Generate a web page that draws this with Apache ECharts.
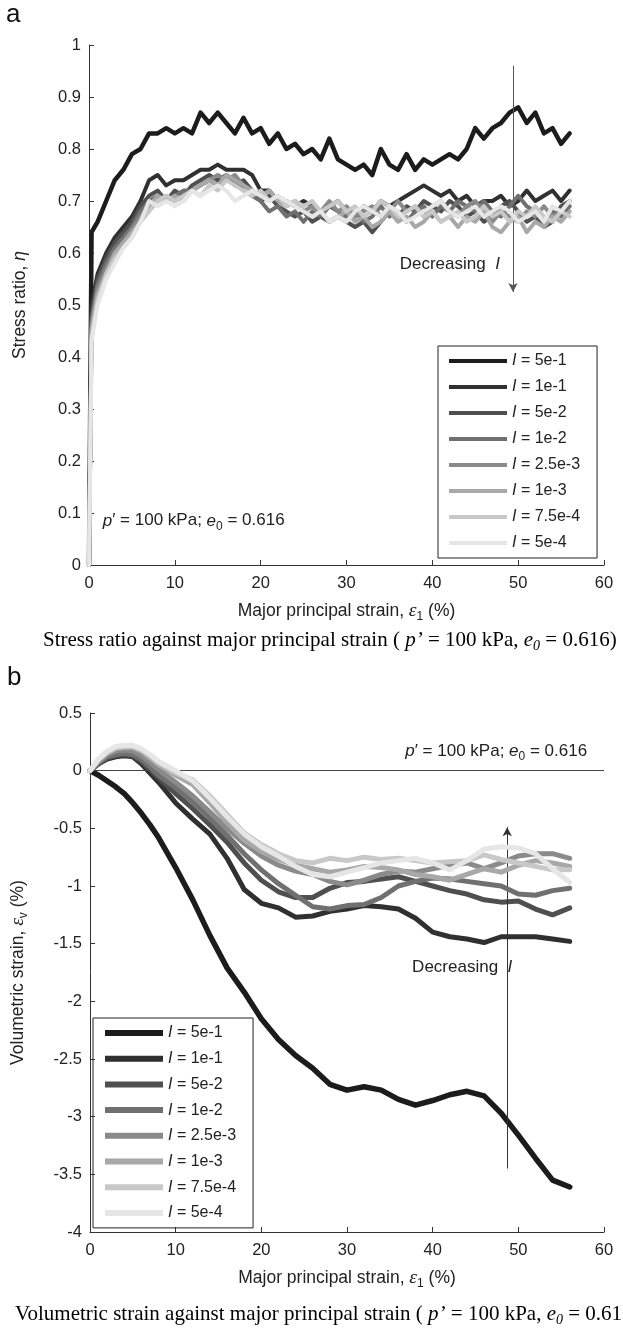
<!DOCTYPE html>
<html><head><meta charset="utf-8">
<script src="https://cdn.jsdelivr.net/npm/echarts@6/dist/echarts.min.js"></script>
<style>html,body{margin:0;padding:0;background:#fff}#c{width:623px;height:1335px}</style>
</head><body><div id="c"></div><script>
// ---------- data ----------
const seriesNames = ['I = 5e-1','I = 1e-1','I = 5e-2','I = 1e-2','I = 2.5e-3','I = 1e-3','I = 7.5e-4','I = 5e-4'];
const seriesColors = ['#1c1c1c','#303030','#4f4f4f','#707070','#8a8a8a','#a8a8a8','#c8c8c8','#e6e6e6'];
const xTicks = [0,10,20,30,40,50,60];

// panel a: stress ratio vs major principal strain (%)
const strainA = [0,0.3,1,2,3,4,5,6,7,8,9,10,11,12,13,14,15,16,17,18,19,20,21,22,23,24,25,26,27,28,29,30,31,32,33,34,35,36,37,38,39,40,41,42,43,44,45,46,47,48,49,50,51,52,53,54,55,56];
const etaI5e1 = [0,0.64,0.66,0.70,0.74,0.76,0.79,0.80,0.83,0.83,0.84,0.83,0.84,0.83,0.87,0.85,0.87,0.85,0.83,0.86,0.83,0.84,0.81,0.83,0.80,0.81,0.79,0.80,0.78,0.82,0.78,0.77,0.76,0.77,0.75,0.80,0.77,0.76,0.79,0.76,0.78,0.77,0.78,0.79,0.78,0.80,0.84,0.82,0.84,0.85,0.87,0.88,0.85,0.87,0.83,0.84,0.81,0.83];
const etaI1e1 = [0,0.50,0.56,0.60,0.63,0.65,0.67,0.70,0.74,0.75,0.73,0.74,0.74,0.75,0.76,0.76,0.77,0.76,0.76,0.76,0.75,0.72,0.72,0.70,0.70,0.69,0.70,0.69,0.68,0.69,0.70,0.68,0.67,0.69,0.68,0.70,0.69,0.70,0.71,0.72,0.73,0.72,0.71,0.72,0.70,0.71,0.69,0.70,0.70,0.71,0.69,0.70,0.72,0.70,0.71,0.72,0.70,0.72];
const etaI5e2 = [0,0.48,0.55,0.59,0.62,0.64,0.66,0.69,0.71,0.72,0.70,0.72,0.71,0.73,0.74,0.75,0.74,0.75,0.73,0.74,0.72,0.70,0.71,0.69,0.68,0.67,0.68,0.66,0.67,0.66,0.67,0.66,0.65,0.66,0.64,0.66,0.68,0.67,0.69,0.68,0.70,0.69,0.68,0.70,0.69,0.67,0.68,0.66,0.67,0.69,0.70,0.68,0.66,0.67,0.65,0.66,0.69,0.70];
const etaI1e2 = [0,0.47,0.54,0.58,0.61,0.63,0.65,0.68,0.70,0.71,0.70,0.71,0.72,0.72,0.73,0.74,0.73,0.75,0.74,0.72,0.71,0.70,0.68,0.69,0.67,0.68,0.66,0.68,0.67,0.69,0.68,0.67,0.68,0.66,0.67,0.69,0.67,0.68,0.66,0.68,0.69,0.67,0.69,0.68,0.70,0.69,0.68,0.70,0.68,0.67,0.69,0.71,0.69,0.68,0.66,0.68,0.67,0.69];
const etaI25e3 = [0,0.46,0.53,0.57,0.60,0.62,0.645,0.67,0.69,0.70,0.71,0.70,0.71,0.72,0.73,0.74,0.75,0.74,0.75,0.73,0.72,0.71,0.70,0.71,0.69,0.70,0.68,0.69,0.68,0.70,0.68,0.69,0.67,0.68,0.69,0.67,0.68,0.70,0.68,0.69,0.67,0.69,0.70,0.68,0.67,0.69,0.70,0.68,0.66,0.68,0.67,0.66,0.68,0.67,0.69,0.67,0.68,0.70];
const etaI1e3 = [0,0.45,0.52,0.56,0.60,0.62,0.64,0.66,0.69,0.71,0.70,0.71,0.70,0.72,0.73,0.74,0.73,0.75,0.74,0.73,0.72,0.71,0.72,0.70,0.69,0.70,0.68,0.67,0.68,0.66,0.67,0.68,0.66,0.67,0.65,0.66,0.68,0.66,0.67,0.65,0.66,0.68,0.66,0.67,0.65,0.67,0.66,0.68,0.65,0.64,0.66,0.67,0.64,0.66,0.65,0.67,0.66,0.68];
const etaI75e4 = [0,0.44,0.51,0.56,0.59,0.61,0.63,0.66,0.68,0.70,0.71,0.70,0.71,0.72,0.71,0.73,0.72,0.74,0.73,0.72,0.71,0.72,0.70,0.71,0.69,0.70,0.69,0.70,0.68,0.69,0.70,0.68,0.69,0.67,0.68,0.70,0.69,0.67,0.68,0.69,0.67,0.68,0.66,0.67,0.68,0.66,0.67,0.69,0.67,0.68,0.66,0.68,0.67,0.69,0.67,0.66,0.68,0.67];
const etaI5e4 = [0,0.43,0.50,0.55,0.58,0.61,0.63,0.66,0.70,0.69,0.70,0.69,0.70,0.72,0.71,0.72,0.73,0.72,0.70,0.71,0.72,0.71,0.70,0.71,0.70,0.69,0.68,0.67,0.68,0.66,0.67,0.66,0.68,0.69,0.68,0.67,0.69,0.68,0.66,0.67,0.68,0.69,0.70,0.68,0.67,0.68,0.69,0.67,0.68,0.69,0.68,0.66,0.67,0.68,0.66,0.69,0.68,0.70];
const etaTicksA = [0,0.1,0.2,0.3,0.4,0.5,0.6,0.7,0.8,0.9,1];

// panel b: volumetric strain (%) vs major principal strain (%)
const strainB = [0,1,2,3,4,5,6,7,8,10,12,14,16,18,20,22,24,26,28,30,32,34,36,38,40,42,44,46,48,50,52,54,56];
const evI5e1 = [0,-0.04,-0.09,-0.14,-0.20,-0.28,-0.37,-0.47,-0.58,-0.84,-1.12,-1.43,-1.71,-1.92,-2.15,-2.33,-2.47,-2.58,-2.72,-2.77,-2.74,-2.77,-2.85,-2.90,-2.86,-2.81,-2.78,-2.82,-2.97,-3.16,-3.36,-3.55,-3.61];
const evI1e1 = [0,0.06,0.10,0.12,0.13,0.12,0.06,-0.02,-0.10,-0.28,-0.42,-0.55,-0.76,-1.03,-1.15,-1.19,-1.27,-1.26,-1.22,-1.20,-1.17,-1.18,-1.20,-1.28,-1.40,-1.44,-1.46,-1.49,-1.44,-1.44,-1.44,-1.46,-1.48];
const evI5e2 = [0,0.06,0.11,0.13,0.14,0.13,0.08,0.01,-0.06,-0.20,-0.33,-0.47,-0.62,-0.80,-0.95,-1.05,-1.10,-1.10,-1.02,-0.97,-0.96,-0.94,-0.92,-0.96,-1.00,-1.04,-1.07,-1.12,-1.14,-1.13,-1.20,-1.25,-1.19];
const evI1e2 = [0,0.07,0.12,0.14,0.15,0.14,0.10,0.03,-0.04,-0.15,-0.27,-0.41,-0.56,-0.72,-0.86,-0.98,-1.08,-1.18,-1.20,-1.17,-1.16,-1.10,-1.00,-0.96,-0.93,-0.94,-0.96,-0.98,-1.00,-1.07,-1.08,-1.04,-1.02];
const evI25e3 = [0,0.08,0.14,0.17,0.18,0.17,0.13,0.07,0.01,-0.10,-0.22,-0.36,-0.50,-0.63,-0.74,-0.82,-0.87,-0.90,-0.96,-0.99,-0.95,-0.90,-0.87,-0.88,-0.85,-0.82,-0.80,-0.85,-0.80,-0.74,-0.72,-0.72,-0.76];
const evI1e3 = [0,0.09,0.15,0.19,0.20,0.20,0.17,0.11,0.05,-0.04,-0.12,-0.28,-0.45,-0.60,-0.70,-0.77,-0.82,-0.85,-0.88,-0.86,-0.83,-0.84,-0.86,-0.90,-0.92,-0.95,-0.90,-0.85,-0.88,-0.82,-0.78,-0.80,-0.83];
const evI75e4 = [0,0.10,0.16,0.20,0.21,0.21,0.18,0.13,0.07,-0.02,-0.08,-0.22,-0.38,-0.54,-0.64,-0.72,-0.78,-0.80,-0.76,-0.78,-0.75,-0.77,-0.76,-0.78,-0.80,-0.79,-0.78,-0.73,-0.77,-0.80,-0.83,-0.86,-0.86];
const evI5e4 = [0,0.10,0.17,0.21,0.22,0.22,0.19,0.14,0.08,0.00,-0.09,-0.24,-0.40,-0.55,-0.66,-0.74,-0.83,-0.90,-0.92,-0.88,-0.84,-0.80,-0.78,-0.76,-0.80,-0.86,-0.78,-0.68,-0.66,-0.67,-0.72,-0.85,-0.97];
const evTicksB = [-4,-3.5,-3,-2.5,-2,-1.5,-1,-0.5,0,0.5];

// annotation anchors (data coordinates)
const arrowA = [[49.4,0.96],[49.4,0.525]];
const arrowB = [[48.7,-3.45],[48.7,-0.49]];

const etaSets = [etaI5e1,etaI1e1,etaI5e2,etaI1e2,etaI25e3,etaI1e3,etaI75e4,etaI5e4];
const evSets = [evI5e1,evI1e1,evI5e2,evI1e2,evI25e3,evI1e3,evI75e4,evI5e4];

// ---------- chart ----------
const FONT = 'Liberation Sans, Arial, Helvetica, sans-serif';
const SERIF = 'Liberation Serif, Times New Roman, serif';
const TXT = '#222';
const richBase = {
  i: {fontStyle:'italic', fontFamily: FONT, fontSize: 17.5, color: TXT},
  eps: {fontStyle:'italic', fontFamily: SERIF, fontSize: 19.5, color: TXT},
  sub: {fontFamily: FONT, fontSize: 12, color: TXT, padding:[12,0,0,0]},
  n: {fontFamily: FONT, fontSize: 17.5, color: TXT}
};

function xAxisCfg(gi){
  return {
    gridIndex: gi, type:'value', min:0, max:60, interval:10,
    name: '{n|Major principal strain, }{eps|ε}{sub|1}{n| (%)}',
    nameLocation:'middle', nameGap: 34,
    nameTextStyle:{rich: richBase},
    axisLine:{show:true, onZero:false, lineStyle:{color:'#333', width:1}},
    axisTick:{show:true, inside:true, length:5, lineStyle:{color:'#333'}},
    axisLabel:{fontFamily:FONT, fontSize:16.5, color:TXT, margin:10},
    splitLine:{show:false}
  };
}
function yAxisCfg(gi, min, max, interval, name){
  return {
    gridIndex: gi, type:'value', min:min, max:max, interval:interval,
    name: name, nameLocation:'middle', nameGap: 60, nameRotate: 90,
    nameTextStyle:{rich: richBase},
    axisLine:{show:true, onZero:false, lineStyle:{color:'#333', width:1}},
    axisTick:{show:true, inside:true, length:5, lineStyle:{color:'#333'}},
    axisLabel:{fontFamily:FONT, fontSize:16.5, color:TXT, margin:8},
    splitLine:{show:false}
  };
}

const series = [];
seriesNames.forEach((nm, k) => {
  series.push({
    name: nm, type:'line', xAxisIndex:0, yAxisIndex:0,
    data: strainA.map((x,i)=>[x, etaSets[k][i]]),
    showSymbol:false, symbol:'none', color: seriesColors[k], z: 2+k,
    lineStyle:{width: k===0?4.5:4, color: seriesColors[k], cap:'round', join:'round'},
    animation:false
  });
});
seriesNames.forEach((nm, k) => {
  series.push({
    name: nm, type:'line', xAxisIndex:1, yAxisIndex:1,
    data: strainB.map((x,i)=>[x, evSets[k][i]]),
    showSymbol:false, symbol:'none', color: seriesColors[k], z: 2+k,
    lineStyle:{width: k===0?5.5:5, color: seriesColors[k], cap:'round', join:'round'},
    animation:false
  });
});

const annRich = {
  i:{fontStyle:'italic', fontFamily:FONT, fontSize:17, color:TXT},
  n:{fontFamily:FONT, fontSize:17, color:TXT},
  sub:{fontFamily:FONT, fontSize:12, color:TXT, padding:[12,0,0,0]}
};
const condText = '{i|p}{n|\u2032 = 100 kPa; }{i|e}{sub|0}{n| = 0.616}';
const decText = '{n|Decreasing  }{i|I}';

// annotation series (panel a)
series.push({
  type:'line', xAxisIndex:0, yAxisIndex:0, data:[], silent:true, z:20, animation:false,
  markLine:{silent:true, symbol:['none','arrow'], symbolSize:[7,9],
    lineStyle:{color:'#555', width:1, type:'solid'}, label:{show:false},
    data:[[{coord:arrowA[0]},{coord:arrowA[1]}]]},
  markPoint:{silent:true, symbol:'circle', symbolSize:0,
    label:{show:true, position:'right', distance:0, rich:annRich},
    data:[
      {coord:[1.6,0.085], label:{formatter: condText}},
      {coord:[36.2,0.579], label:{formatter: decText}}
    ]}
});
// annotation series (panel b)
series.push({
  type:'line', xAxisIndex:1, yAxisIndex:1, data:[], silent:true, z:20, animation:false,
  markLine:{silent:true, symbol:['none','arrow'], symbolSize:[7,9],
    lineStyle:{color:'#333', width:1, type:'solid'}, label:{show:false},
    data:[[{coord:arrowB[0]},{coord:arrowB[1]}]]},
  markPoint:{silent:true, symbol:'circle', symbolSize:0,
    label:{show:true, position:'right', distance:0, rich:annRich},
    data:[
      {coord:[36.8,0.17], label:{formatter: condText}},
      {coord:[37.6,-1.705], label:{formatter: decText}}
    ]}
});
series.push({
  type:'line', xAxisIndex:1, yAxisIndex:1, data:[], silent:true, z:1, animation:false,
  markLine:{silent:true, symbol:['none','none'],
    lineStyle:{color:'#444', width:1, type:'solid'}, label:{show:false},
    data:[{yAxis:0}]}
});

function legendCfg(left, top, iconH, gap, pad){
  return {
    data: seriesNames, orient:'vertical', left:left, top:top,
    itemWidth:58, itemHeight:iconH, itemGap:gap, icon:'rect',
    borderColor:'#222', borderWidth:1, padding:pad, selectedMode:false,
    formatter: n => '{i|I}{n|' + n.slice(1) + '}',
    textStyle:{fontFamily:FONT, fontSize:16, color:TXT, lineHeight:18,
      rich:{i:{fontStyle:'italic', fontFamily:FONT, fontSize:16, color:TXT, lineHeight:18},
            n:{fontFamily:FONT, fontSize:16, color:TXT, lineHeight:18}}}
  };
}

const capRich = {
  t:{fontFamily:SERIF, fontSize:21, color:'#111'},
  it:{fontFamily:SERIF, fontSize:21, fontStyle:'italic', color:'#111'},
  sb:{fontFamily:SERIF, fontSize:14, fontStyle:'italic', color:'#111', padding:[12,0,0,0]}
};

const option = {
  backgroundColor:'#fff',
  animation:false,
  grid:[
    {left:89, top:45, width:515, height:520, containLabel:false},
    {left:89, top:713, width:515, height:519, containLabel:false}
  ],
  xAxis:[xAxisCfg(0), xAxisCfg(1)],
  yAxis:[
    yAxisCfg(0, 0, 1, 0.1, '{n|Stress ratio, }{i|η}'),
    yAxisCfg(1, -4, 0.5, 0.5, '{n|Volumetric strain, }{eps|ε}{sub|v}{n| (%)}')
  ],
  legend:[
    legendCfg(438, 346, 4, 8, [6,17,6,11]),
    legendCfg(93, 1018, 6, 7.7, [6,17,6,12])
  ],
  graphic:[
    {type:'text', left:6, top:2, style:{text:'a', font:'26px '+FONT, fill:'#111'}},
    {type:'text', left:7, top:665, style:{text:'b', font:'26px '+FONT, fill:'#111'}},
    {type:'text', left:43, top:630, style:{
      text:'{t|Stress ratio against major principal strain ( }{it|p\u2019}{t| = 100 kPa, }{it|e}{sb|0}{t| = 0.616)}',
      rich:capRich}},
    {type:'text', left:15, top:1304, style:{
      text:'{t|Volumetric strain against major principal strain ( }{it|p\u2019}{t| = 100 kPa, }{it|e}{sb|0}{t| = 0.616)}',
      rich:capRich}}
  ],
  series: series
};

const chart = echarts.init(document.getElementById('c'), null, {renderer:'canvas'});
chart.setOption(option);
</script></body></html>
